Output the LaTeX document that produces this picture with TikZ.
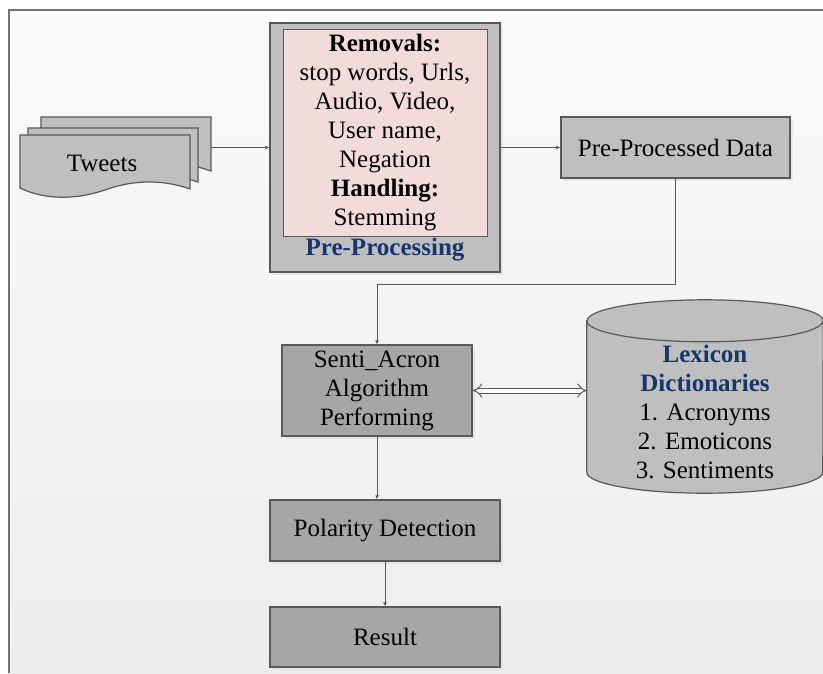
\documentclass[tikz,border=0pt]{standalone}
\usepackage{fontspec}
\setmainfont{Liberation Serif}
\usepackage{tikz}
\usetikzlibrary{positioning, shadows}
\usetikzlibrary{arrows.meta}
\tikzset{>={Latex[width=4pt,length=4pt]}}
\definecolor{linegray}{RGB}{89,89,89}
\definecolor{boxgray}{RGB}{191,191,191}
\definecolor{boxdark}{RGB}{166,166,166}
\definecolor{pinkfill}{RGB}{242,220,219}
\definecolor{titleblue}{RGB}{23,54,109}

\begin{document}
\begin{tikzpicture}[x=1pt, y=-1pt, font=\fontsize{25}{29}\selectfont, box/.style={rectangle, draw=linegray, fill=boxgray, line width=1.2pt, inner sep=0pt, align=center, drop shadow={shadow xshift=2.5pt, shadow yshift=-2.5pt, fill=black!15}}, darkbox/.style={box, fill=boxdark}, doc/.style={draw=linegray, fill=boxgray, line width=1.2pt}, conn/.style={->, draw=linegray, line width=1pt}]
    \useasboundingbox (0,0) rectangle (823,673);
    
    %Background
    \shade[top color=black!2, bottom color=black!7] (9,10) rectangle (823,673);
    \draw[line width=1.5pt, black!55] (9,673) -- (9,10) -- (823,10);
    
    %Tweets
    \foreach \dx/\dy in {21/-18, 8/-7, 0/0}
        \filldraw[doc, shift={(\dx,\dy)}] (20,135) -- (190,135) -- (190,189) .. controls (165,180) and (135,179) .. (105,190) .. controls (75,200) and (45,200) .. (20,188) -- cycle;
    \node (tweets) at (102,163) {Tweets};
    \coordinate (tweetsout) at (211,147.5);
    
    %Nodes
    \node[box, minimum width=230pt, minimum height=249pt] (pre) at (385,147.5) {};
    \node[rectangle, draw=linegray, fill=pinkfill, line width=1pt, inner sep=0pt, minimum width=204pt, minimum height=207pt, align=center] (removals) at (385,132.5) {\textbf{Removals:}\\stop words, Urls,\\Audio, Video,\\User name,\\Negation\\\textbf{Handling:}\\Stemming};
    \node[text=titleblue] (pretitle) at (385,250) {\textbf{Pre-Processing}};
    \node[box, minimum width=229pt, minimum height=61pt] (ppd) at (675.5,147.5) {Pre-Processed Data};
    \node[darkbox, minimum width=190pt, minimum height=91pt] (senti) at (377,390.5) {Senti\_Acron\\Algorithm\\Performing};
    \node[darkbox, minimum width=230pt, minimum height=61pt] (polarity) at (385,530.5) {Polarity Detection};
    \node[darkbox, minimum width=230pt, minimum height=60pt] (result) at (385,637) {Result};
    
    %Lexicon cylinder
    \node[inner sep=0pt, minimum width=236pt, minimum height=151pt] (lexbody) at (705,396.5) {};
    \filldraw[doc] (lexbody.north west) -- (lexbody.south west) arc[start angle=180, end angle=360, x radius=118pt, y radius=21pt] -- (lexbody.north east) arc[start angle=0, end angle=180, x radius=118pt, y radius=21pt] -- cycle;
    \draw[doc, fill=none] (lexbody.north west) arc[start angle=180, end angle=360, x radius=118pt, y radius=21pt];
    \node[align=center] (lex) at (705,411.5) {\textcolor{titleblue}{\textbf{Lexicon}}\\\textcolor{titleblue}{\textbf{Dictionaries}}\\1. Acronyms\\2. Emoticons\\3. Sentiments};
    
    %Lines
    \draw[conn] (tweetsout) -- (pre.west);
    \draw[conn] (pre.east) -- (ppd.west);
    \draw[conn] (ppd.south) -- +(0,106) -| (senti.north);
    \draw[draw=linegray, line width=1pt, double=white, double distance=4pt, {Implies[scale=1.8]}-{Implies[scale=1.8]}] (senti.east) -- (senti.east -| lexbody.west);
    \draw[conn] (senti.south) -- (senti.south |- polarity.north);
    \draw[conn] (polarity.south) -- (result.north);
    
\end{tikzpicture}
\end{document}
